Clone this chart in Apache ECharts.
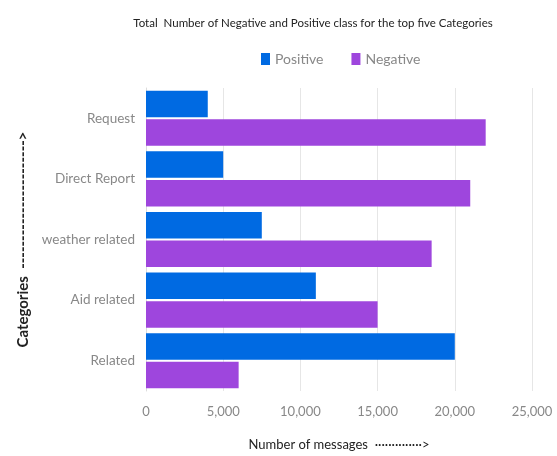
<!DOCTYPE html>
<html>
<head>
<meta charset="utf-8">
<script src="https://cdn.jsdelivr.net/npm/echarts@6/dist/echarts.min.js"></script>
<style>
    html, body { margin: 0; padding: 0; background: #fff; }
    #chart { width: 557px; height: 456px; }
</style>
</head>
<body>
<div id="chart"></div>
<script>
// categories top to bottom
let categories = ["Request", "Direct Report", "weather related", "Aid related", "Related"];
let positiveValues = [4000, 5000, 7500, 11000, 20000];
let negativeValues = [22000, 21000, 18500, 15000, 6000];
let xTicks = [0, 5000, 10000, 15000, 20000, 25000];

let chart = echarts.init(document.getElementById("chart"));

let labelFont = "Lato, 'Open Sans', sans-serif";

let option = {
    animation: false,
    title: {
        text: "Total  Number of Negative and Positive class for the top five Categories",
        left: 308,
        textAlign: "center",
        top: 12,
        textStyle: {
            fontFamily: labelFont,
            fontSize: 11.5,
            fontWeight: "normal",
            color: "#222"
        }
    },
    legend: {
        top: 47,
        left: 256,
        itemWidth: 9,
        itemHeight: 12,
        itemGap: 28,
        icon: "rect",
        textStyle: {
            fontFamily: labelFont,
            fontSize: 14,
            color: "#888"
        },
        data: ["Positive", "Negative"]
    },
    grid: {
        left: 146,
        right: 25,
        top: 88,
        bottom: 61,
        containLabel: false
    },
    xAxis: {
        type: "value",
        min: xTicks[0],
        max: xTicks[xTicks.length - 1],
        interval: 5000,
        name: "Number of messages  ··············>",
        nameLocation: "middle",
        nameGap: 47,
        nameTextStyle: {
            fontFamily: labelFont,
            fontSize: 13,
            color: "#222"
        },
        axisLine: { show: false },
        axisTick: { show: false },
        axisLabel: {
            fontFamily: labelFont,
            fontSize: 13,
            color: "#888",
            margin: 14,
            formatter: function (val) {
                return val.toLocaleString("en-US");
            }
        },
        splitLine: {
            lineStyle: { color: "#e6e6e6", width: 1 }
        }
    },
    yAxis: {
        type: "category",
        inverse: true,
        data: categories,
        name: "Categories  ----------------------->",
        nameLocation: "middle",
        nameGap: 115,
        nameRotate: 90,
        nameTextStyle: {
            fontFamily: labelFont,
            fontSize: 15,
            fontWeight: "bold",
            color: "#222"
        },
        axisLine: { show: true, lineStyle: { color: "#dcdcdc" } },
        axisTick: { show: false },
        axisLabel: {
            fontFamily: labelFont,
            fontSize: 13.5,
            color: "#888",
            margin: 11
        }
    },
    series: [{
        name: "Positive",
        type: "bar",
        data: positiveValues,
        barWidth: 26.5,
        barGap: "8%",
        itemStyle: { color: "#006ae2" }
    }, {
        name: "Negative",
        type: "bar",
        data: negativeValues,
        barWidth: 26.5,
        barGap: "8%",
        itemStyle: { color: "#9e46dd" }
    }]
};

chart.setOption(option);
</script>
</body>
</html>
